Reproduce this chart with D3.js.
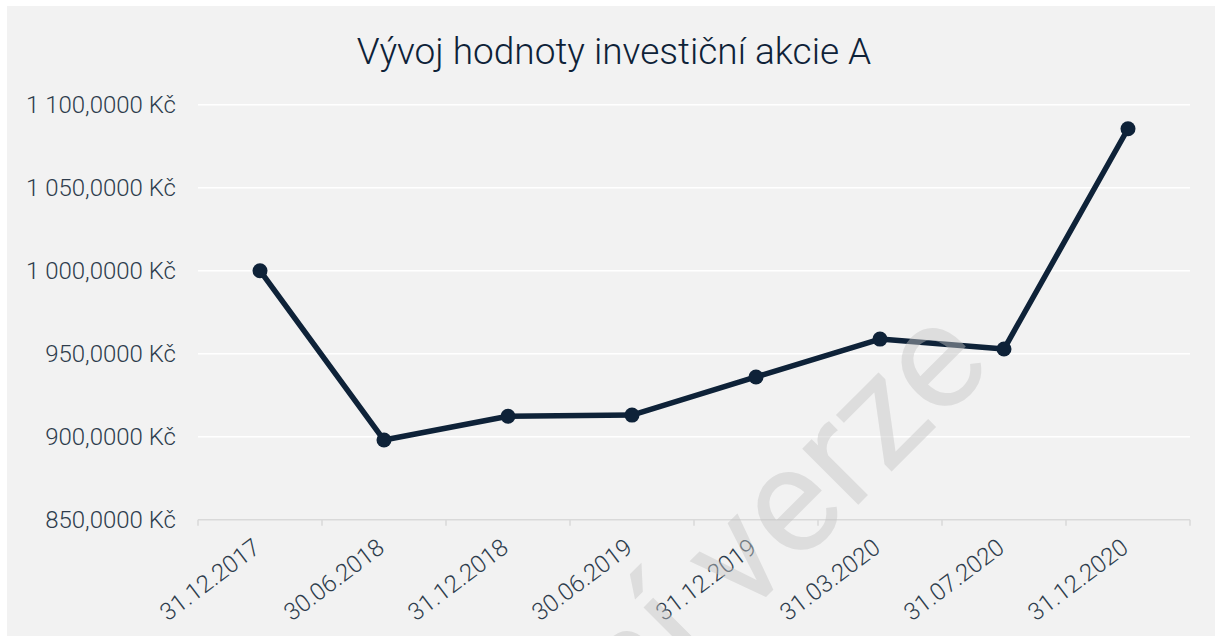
<!DOCTYPE html>
<html>
<head>
<meta charset="utf-8">
<script src="https://cdn.jsdelivr.net/npm/d3@7"></script>
<style>
  body { margin: 0; background: #ffffff; }
  text { font-family: Roboto, "Open Sans", sans-serif; }
</style>
</head>
<body>
<div id="chart"></div>
<script>
// --- data
var dates = ["31.12.2017", "30.06.2018", "31.12.2018", "30.06.2019",
             "31.12.2019", "31.03.2020", "31.07.2020", "31.12.2020"];
var values = [1000, 898, 912.3, 913, 936, 958.8, 952.8, 1085.5];
var yTicks = [850, 900, 950, 1000, 1050, 1100];
var title = "Vývoj hodnoty investiční akcie A";
var watermark = "Zkušební verze";

var W = 1215, H = 636;
var margin = { top: 104.7, right: 25, bottom: 116.3, left: 198 };

var cz = d3.formatLocale({ decimal: ",", thousands: " ", grouping: [3], currency: ["", " Kč"] });
var fmt = cz.format(",.4f");

var svg = d3.select("#chart")
            .append("svg")
            .attr("width", W)
            .attr("height", H);

// panel
svg.append("rect")
   .attr("x", 7).attr("y", 6)
   .attr("width", W - 7).attr("height", H - 6)
   .attr("fill", "#f2f2f2");

var x = d3.scaleBand()
          .domain(dates)
          .range([margin.left, W - margin.right])
          .padding(0);

var y = d3.scaleLinear()
          .domain([850, 1100])
          .range([H - margin.bottom, margin.top]);

// gridlines
svg.append("g")
   .selectAll("line")
   .data(yTicks.filter(function(d) { return d != 850; }))
   .enter()
   .append("line")
   .attr("x1", margin.left)
   .attr("x2", W - margin.right)
   .attr("y1", function(d) { return y(d); })
   .attr("y2", function(d) { return y(d); })
   .attr("stroke", "#ffffff")
   .attr("stroke-width", 1.5);

// y labels
svg.append("g")
   .selectAll("text")
   .data(yTicks)
   .enter()
   .append("text")
   .attr("x", 176)
   .attr("y", function(d) { return y(d); })
   .attr("dy", "0.35em")
   .attr("text-anchor", "end")
   .attr("font-size", "24px")
   .attr("font-weight", 300)
   .attr("fill", "#2e3d4d")
   .text(function(d) { return fmt(d) + " Kč"; });

// x axis line + boundary ticks
var y0 = y(850);
svg.append("line")
   .attr("x1", margin.left).attr("x2", W - margin.right)
   .attr("y1", y0).attr("y2", y0)
   .attr("stroke", "#d9d9d9").attr("stroke-width", 1.5);

var bounds = dates.map(function(d) { return x(d); }).concat([x.range()[1]]);
svg.append("g")
   .selectAll("line")
   .data(bounds)
   .enter()
   .append("line")
   .attr("x1", function(d) { return d; })
   .attr("x2", function(d) { return d; })
   .attr("y1", y0).attr("y2", y0 + 6)
   .attr("stroke", "#d9d9d9").attr("stroke-width", 1.5);

// x labels (rotated)
svg.append("g")
   .selectAll("text")
   .data(dates)
   .enter()
   .append("text")
   .attr("text-anchor", "end")
   .attr("font-size", "24px")
   .attr("font-weight", 300)
   .attr("fill", "#2e3d4d")
   .attr("transform", function(d) {
     return "translate(" + (x(d) + x.bandwidth() / 2 + 2) + "," + (y0 + 31) + ") rotate(-37)";
   })
   .text(function(d) { return d; });

// line
var line = d3.line()
             .x(function(d, i) { return x(dates[i]) + x.bandwidth() / 2; })
             .y(function(d) { return y(d); });

svg.append("path")
   .datum(values)
   .attr("d", line)
   .attr("fill", "none")
   .attr("stroke", "#0e2238")
   .attr("stroke-width", 5.5)
   .attr("stroke-linejoin", "round");

svg.selectAll(".pt")
   .data(values)
   .enter()
   .append("circle")
   .attr("class", "pt")
   .attr("cx", function(d, i) { return x(dates[i]) + x.bandwidth() / 2; })
   .attr("cy", function(d) { return y(d); })
   .attr("r", 7.5)
   .attr("fill", "#0e2238");

// title
svg.append("text")
   .attr("x", 614)
   .attr("y", 64)
   .attr("text-anchor", "middle")
   .attr("font-size", "37px")
   .attr("font-weight", 300)
   .attr("fill", "#0e2238")
   .text(title);

// watermark on top
svg.append("text")
   .attr("text-anchor", "end")
   .attr("font-size", "150px")
   .attr("fill", "#c4c4c4")
   .attr("opacity", 0.45)
   .attr("transform", "translate(995,368) rotate(-45)")
   .text(watermark);
</script>
</body>
</html>
